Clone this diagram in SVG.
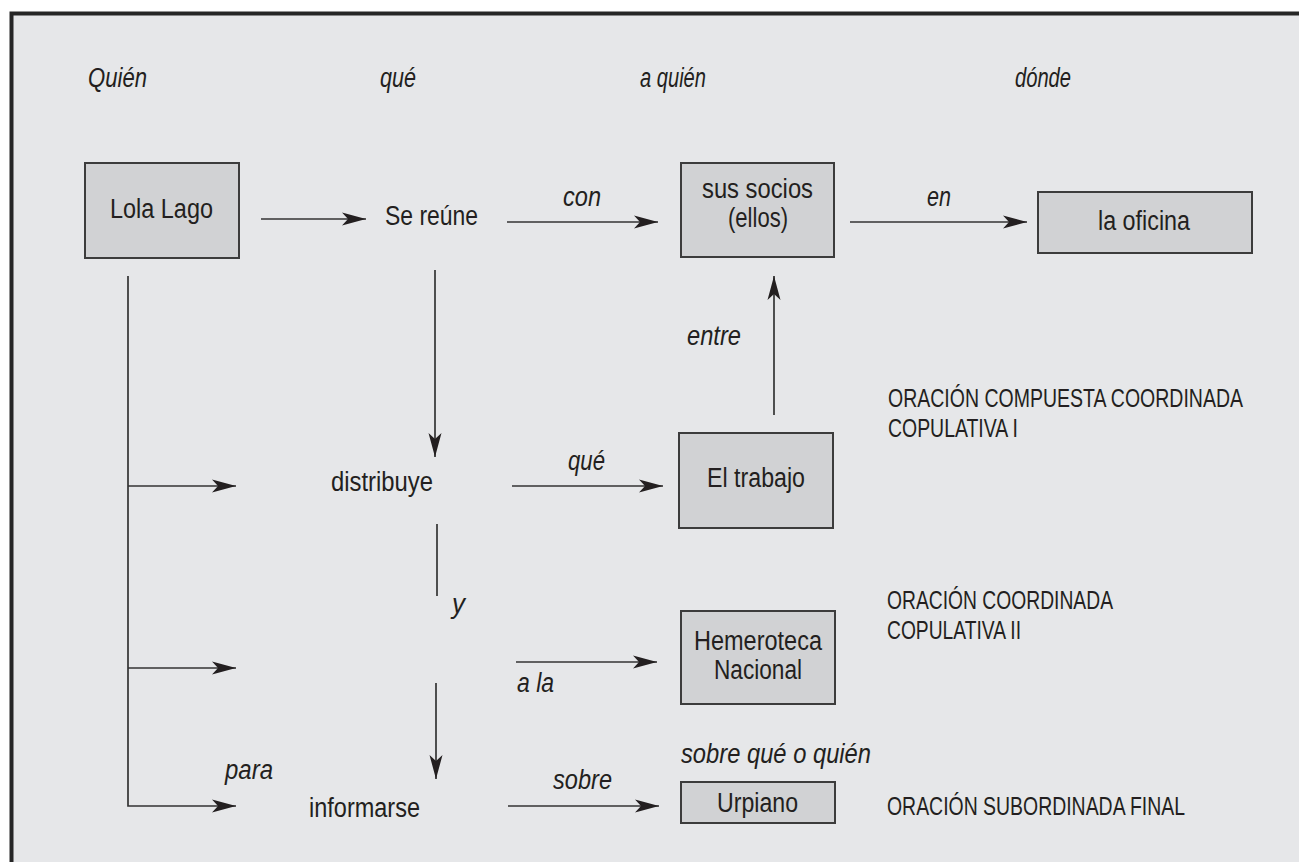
<svg xmlns="http://www.w3.org/2000/svg" width="1299" height="862" viewBox="0 0 1299 862">
<defs>
<style>
text{font-family:"Liberation Sans Narrow","Liberation Sans",Arial,sans-serif;font-size:27px;fill:#231f20}
.i{font-style:italic}
.n{font-size:26px}
.box{fill:#d1d2d4;stroke:#3c3c3c;stroke-width:2}
.ln{fill:none;stroke:#333;stroke-width:1.7}
.ar{marker-end:url(#ah)}
</style>
<marker id="ah" markerUnits="userSpaceOnUse" markerWidth="26" markerHeight="14" viewBox="0 0 26 14" refX="24" refY="7" orient="auto">
<path d="M0,0.5 L24,7 L0,13.5 L6,7 Z" fill="#231f20"/>
</marker>
</defs>
<rect x="0" y="0" width="1299" height="862" fill="#ffffff"/>
<rect x="12" y="14" width="1290" height="852" fill="#e6e7e9"/>
<path d="M11.5,866 V13.5 H1299" fill="none" stroke="#262626" stroke-width="4"/>

<g id="headers">
<text class="i" x="88" y="87" textLength="59" lengthAdjust="spacingAndGlyphs">Quién</text>
<text class="i" x="380" y="87" textLength="36" lengthAdjust="spacingAndGlyphs">qué</text>
<text class="i" x="640" y="87" textLength="66" lengthAdjust="spacingAndGlyphs">a quién</text>
<text class="i" x="1015" y="87" textLength="56" lengthAdjust="spacingAndGlyphs">dónde</text>
</g>

<g id="connectors">
<line class="ln ar" x1="261" y1="219" x2="366" y2="219"/>
<line class="ln ar" x1="507" y1="222" x2="658" y2="222"/>
<line class="ln ar" x1="850" y1="222" x2="1027" y2="222"/>
<line class="ln ar" x1="435" y1="270" x2="435" y2="457"/>
<line class="ln ar" x1="774" y1="415" x2="774" y2="276"/>
<line class="ln ar" x1="512" y1="486" x2="663" y2="486"/>
<line class="ln ar" x1="128" y1="486" x2="236" y2="486"/>
<line class="ln ar" x1="128" y1="668" x2="236" y2="668"/>
<path class="ln ar" d="M128,276 V806 H236"/>
<line class="ln ar" x1="516" y1="662" x2="657" y2="662"/>
<line class="ln ar" x1="436" y1="683" x2="436" y2="779"/>
<line class="ln ar" x1="508" y1="806" x2="659" y2="806"/>
<line class="ln" x1="437" y1="524" x2="437" y2="596"/>
<text class="i" x="563" y="206" textLength="38" lengthAdjust="spacingAndGlyphs">con</text>
<text class="i" x="927" y="206" textLength="24" lengthAdjust="spacingAndGlyphs">en</text>
<text class="i" x="687" y="345" textLength="54" lengthAdjust="spacingAndGlyphs">entre</text>
<text class="i" x="568" y="470" textLength="37" lengthAdjust="spacingAndGlyphs">qué</text>
<text class="i" x="452" y="613" textLength="13" lengthAdjust="spacingAndGlyphs">y</text>
<text class="i" x="517" y="692" textLength="37" lengthAdjust="spacingAndGlyphs">a la</text>
<text class="i" x="225" y="779" textLength="48" lengthAdjust="spacingAndGlyphs">para</text>
<text class="i" x="553" y="789" textLength="59" lengthAdjust="spacingAndGlyphs">sobre</text>
</g>

<g id="lola-lago">
<rect class="box" x="85" y="163" width="154" height="95"/>
<text x="110" y="218" textLength="103" lengthAdjust="spacingAndGlyphs">Lola Lago</text>
</g>
<g id="se-reune">
<text x="385" y="225" textLength="93" lengthAdjust="spacingAndGlyphs">Se reúne</text>
</g>
<g id="sus-socios">
<rect class="box" x="681" y="163" width="153" height="94"/>
<text x="702" y="198" textLength="111" lengthAdjust="spacingAndGlyphs">sus socios</text>
<text x="728" y="227" textLength="60" lengthAdjust="spacingAndGlyphs">(ellos)</text>
</g>
<g id="la-oficina">
<rect class="box" x="1038" y="192" width="214" height="61"/>
<text x="1098" y="230" textLength="92" lengthAdjust="spacingAndGlyphs">la oficina</text>
</g>
<g id="distribuye">
<text x="331" y="491" textLength="102" lengthAdjust="spacingAndGlyphs">distribuye</text>
</g>
<g id="el-trabajo">
<rect class="box" x="679" y="433" width="154" height="95"/>
<text x="707" y="487" textLength="98" lengthAdjust="spacingAndGlyphs">El trabajo</text>
</g>
<g id="hemeroteca">
<rect class="box" x="681" y="611" width="154" height="93"/>
<text x="694" y="650" textLength="128" lengthAdjust="spacingAndGlyphs">Hemeroteca</text>
<text x="714" y="679" textLength="88" lengthAdjust="spacingAndGlyphs">Nacional</text>
</g>
<g id="informarse">
<text x="309" y="817" textLength="111" lengthAdjust="spacingAndGlyphs">informarse</text>
</g>
<g id="urpiano">
<text class="i" x="681" y="763" textLength="190" lengthAdjust="spacingAndGlyphs">sobre qué o quién</text>
<rect class="box" x="681" y="782" width="154" height="41"/>
<text x="717" y="812" textLength="81" lengthAdjust="spacingAndGlyphs">Urpiano</text>
</g>
<g id="notes">
<text class="n" x="888" y="407" textLength="355" lengthAdjust="spacingAndGlyphs">ORACIÓN COMPUESTA COORDINADA</text>
<text class="n" x="888" y="437" textLength="130" lengthAdjust="spacingAndGlyphs">COPULATIVA I</text>
<text class="n" x="887" y="609" textLength="226" lengthAdjust="spacingAndGlyphs">ORACIÓN COORDINADA</text>
<text class="n" x="887" y="639" textLength="134" lengthAdjust="spacingAndGlyphs">COPULATIVA II</text>
<text class="n" x="887" y="815" textLength="298" lengthAdjust="spacingAndGlyphs">ORACIÓN SUBORDINADA FINAL</text>
</g>
</svg>
